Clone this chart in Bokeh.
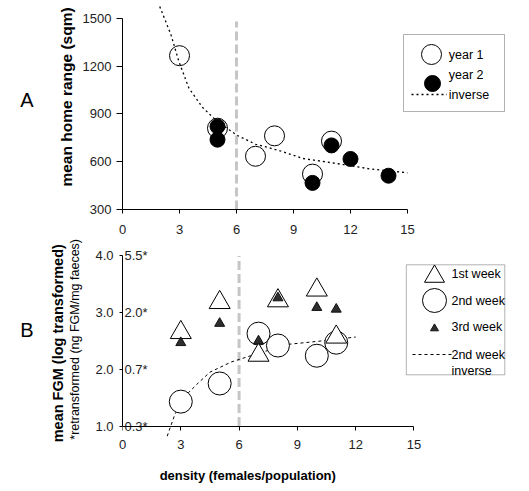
import math
from bokeh.plotting import figure
from bokeh.layouts import column
from bokeh.models import (Range1d, FixedTicker, Legend, LegendItem, Label,
                          BoxAnnotation, LinearAxis)
from bokeh.core.properties import value
from bokeh.embed import file_html
from bokeh.resources import INLINE

FONT = "Liberation Sans"
TICK_COLOR = "#222222"

# ---------------- data: panel A (home range) ----------------
density_year1 = [3, 5, 7, 8, 10, 11]
home_range_year1 = [1265, 810, 634, 762, 522, 729]
density_year2 = [5, 5, 10, 11, 12, 14]
home_range_year2 = [821, 738, 467, 702, 617, 512]
inverse_a_x = [1.96, 2.54, 2.98, 3.5, 4.2, 5.0, 6.05, 7.0, 8.24, 9.5, 11.35, 13.0, 15.0]
inverse_a_y = [1573, 1400, 1224, 1060, 942, 850, 764, 710, 670, 620, 587, 555, 530]

# ---------------- data: panel B (FGM) ----------------
density_weeks = [3, 5, 7, 8, 10, 11]
fgm_week1 = [2.65, 3.18, 2.25, 3.21, 3.40, 2.57]
fgm_week2 = [1.43, 1.75, 2.63, 2.42, 2.24, 2.47]
fgm_week3 = [2.47, 2.81, 2.50, 3.26, 3.09, 3.06]
inverse_b_x = [2.3, 2.7, 3.4, 3.9, 4.5, 5.6, 6.6, 8.5, 10.5, 12.0]
inverse_b_y = [0.82, 1.21, 1.59, 1.76, 1.95, 2.13, 2.24, 2.44, 2.51, 2.57]

# ---------------- ticks ----------------
x_ticks = [0, 3, 6, 9, 12, 15]
a_y_ticks = [300, 600, 900, 1200, 1500]
b_y_ticks = [1.0, 2.0, 3.0, 4.0]
b_y_tick_labels = ["1.0", "2.0", "3.0", "4.0"]
b_retransformed_labels = ["0.3*", "0.7*", "2.0*", "5.5*"]
threshold_density = 6

# ---------------- geometry (canvas pixels) ----------------
W = 529
A_H = 238
B_TOP = A_H
B_H = 491 - A_H
AX_L, AY_T, AY_B = 122, 0, 209
A_XPX = 19.0
A_YPX = 191.3 / 1200.0
BX_L, BY_T, BY_B = 117, B_TOP, 437
B_XPX = 19.67
B_YPX = 56.67
B_Y1PX = 425.5  # pixel row of value 1.0 (where the x axis line sits)


def a_data(px, py):
    return (px - AX_L) / A_XPX, 300 + (AY_B - py) / A_YPX


def b_data(px, py):
    return (px - BX_L) / B_XPX, 1.0 + (B_Y1PX - py) / B_YPX


def style_fig(p):
    p.outline_line_color = None
    p.xgrid.visible = False
    p.ygrid.visible = False
    p.background_fill_color = "white"
    p.border_fill_color = "white"


def style_axis(ax, tick_out, standoff):
    ax.axis_line_color = "black"
    ax.major_tick_line_color = "black"
    ax.major_tick_out = tick_out
    ax.major_tick_in = 0
    ax.minor_tick_line_color = None
    ax.major_label_text_font = FONT
    ax.major_label_text_font_size = "13px"
    ax.major_label_text_color = TICK_COLOR
    ax.major_label_standoff = standoff


def text_axis(p, side, pos, text, size, style, standoff, orientation="horizontal"):
    """An axis without line or ticks whose single tick label carries a title text."""
    ax = LinearAxis(ticker=FixedTicker(ticks=[pos]), major_label_overrides={pos: text},
                    major_label_text_font=FONT, major_label_text_font_size=size,
                    major_label_text_font_style=style, major_label_text_color="black",
                    major_label_orientation=orientation, major_label_standoff=standoff,
                    axis_line_color=None, major_tick_line_color=None,
                    minor_tick_line_color=None, major_tick_out=0, major_tick_in=0,
                    minor_tick_out=0, minor_tick_in=0)
    p.add_layout(ax, side)
    return ax


def legend_glyph(p, renderer, cx, cy, size, frame_l, frame_b, line_x0=None, line_x1=None):
    if line_x0 is None:
        gw = gh = int(round(size / 0.4))
    else:
        gw = int(round(line_x1 - line_x0))
        gh = 16
    left = cx - gw / 2.0
    bottom = cy + gh / 2.0
    leg = Legend(items=[LegendItem(label=" ", renderers=[renderer])],
                 location=(left - frame_l, frame_b - bottom),
                 glyph_width=gw, glyph_height=gh, label_standoff=0,
                 label_height=4, label_width=1,
                 padding=0, margin=0, spacing=0,
                 border_line_color=None, background_fill_alpha=0,
                 label_text_font_size="4px")
    p.add_layout(leg)


def legend_text(p, conv, text, px, py):
    x, y = conv(px, py)
    p.add_layout(Label(x=x, y=y, text=text, text_font=FONT, text_font_size="12.5px",
                       text_align="left", text_baseline="middle", text_color="black"))


# ======================= Panel A =======================
pa = figure(width=W, height=A_H, output_backend="svg", toolbar_location=None,
            x_range=Range1d(0, (W - AX_L) / A_XPX),
            y_range=Range1d(300, 300 + (AY_B - AY_T) / A_YPX),
            min_border_left=AX_L, min_border_right=0,
            min_border_top=AY_T, min_border_bottom=A_H - AY_B)
style_fig(pa)

pa.segment(x0=[threshold_density], y0=[a_y_ticks[0]], x1=[threshold_density], y1=[1480],
           line_color="#c6c6c6", line_width=3, line_dash="9 4")
r_y1 = pa.scatter(density_year1, home_range_year1, size=20, marker="circle",
                  fill_color="white", line_color="black", line_width=1)
r_y2 = pa.scatter(density_year2, home_range_year2, size=15, marker="circle",
                  fill_color="black", line_color="black")
r_inv_a = pa.line(inverse_a_x, inverse_a_y, line_color="black", line_width=1.3,
                  line_dash="2 3")

xa = pa.xaxis[0]
xa.ticker = FixedTicker(ticks=x_ticks)
xa.bounds = (x_ticks[0], x_ticks[-1])
style_axis(xa, 4, 11)
ya = pa.yaxis[0]
ya.ticker = FixedTicker(ticks=a_y_ticks)
ya.bounds = (a_y_ticks[0], a_y_ticks[-1])
style_axis(ya, 6, 5)

text_axis(pa, "left", a_data(0, 110.8)[1], "mean home range (sqm)", "15.5px", "bold", 13,
          orientation=math.pi / 2)
text_axis(pa, "left", a_data(0, 99)[1], "A", "20px", "normal", 13)

# legend A
pa.add_layout(BoxAnnotation(left=a_data(403, 0)[0], right=a_data(504, 0)[0],
                            top=a_data(0, 34)[1], bottom=a_data(0, 111)[1],
                            fill_alpha=0, line_color="black", line_width=1))
legend_glyph(pa, r_y1, 431, 54.3, 20, AX_L, AY_B)
legend_glyph(pa, r_y2, 432, 83.3, 16, AX_L, AY_B)
legend_glyph(pa, r_inv_a, 428.7, 94.3, None, AX_L, AY_B, line_x0=410.7, line_x1=446.7)
legend_text(pa, a_data, "year 1", 448.3, 54.3)
legend_text(pa, a_data, "year 2", 448.3, 74.3)
legend_text(pa, a_data, "inverse", 448.3, 94.3)

# ======================= Panel B =======================
pb = figure(width=W, height=B_H, output_backend="svg", toolbar_location=None,
            x_range=Range1d(0, (W - BX_L) / B_XPX),
            y_range=Range1d(1.0 - (BY_B - B_Y1PX) / B_YPX,
                            1.0 + (B_Y1PX - BY_T) / B_YPX),
            min_border_left=BX_L, min_border_right=0,
            min_border_top=0, min_border_bottom=B_TOP + B_H - BY_B)
style_fig(pb)

pb.segment(x0=[threshold_density], y0=[b_y_ticks[0]], x1=[threshold_density], y1=[b_y_ticks[-1]],
           line_color="#c6c6c6", line_width=3, line_dash="9 4")
r_inv_b = pb.line(inverse_b_x, inverse_b_y, line_color="black", line_width=1,
                  line_dash="3 3")
r_w2 = pb.scatter(density_weeks, fgm_week2, size=23, marker="circle",
                  fill_color="white", line_color="black", line_width=1)
r_w1 = pb.scatter(density_weeks, fgm_week1, size=21, marker="triangle",
                  fill_color="white", line_color="black", line_width=1)
r_w3 = pb.scatter(density_weeks, fgm_week3, size=10, marker="triangle",
                  fill_color="#2e2e2e", line_color="#111111", line_width=1)

pb.text(x=[x_ticks[0]] * len(b_y_ticks), y=b_y_ticks, text=b_retransformed_labels,
        x_offset=2, text_align="left", text_baseline="middle",
        text_font=value(FONT), text_font_size="13px", text_color=TICK_COLOR)

# x axis line + tick marks, pinned at FGM = 1.0 (its own labels are hidden)
xb = pb.xaxis[0]
xb.ticker = FixedTicker(ticks=x_ticks)
xb.bounds = (x_ticks[0], x_ticks[-1])
xb.fixed_location = b_y_ticks[0]
style_axis(xb, 4, 3)
xb.major_label_text_alpha = 0
# tick labels of the x axis, below the frame
xl = LinearAxis(ticker=FixedTicker(ticks=x_ticks), axis_line_color=None,
                major_tick_line_color=None, minor_tick_line_color=None)
style_axis(xl, 0, 2)
xl.axis_line_color = None
xl.major_tick_line_color = None
pb.add_layout(xl, "below")

yb = pb.yaxis[0]
yb.ticker = FixedTicker(ticks=b_y_ticks)
yb.bounds = (b_y_ticks[0], b_y_ticks[-1])
yb.major_label_overrides = {t: s for t, s in zip(b_y_ticks, b_y_tick_labels)}
style_axis(yb, 3, 6)

b_lab_mid = b_data(0, 342)[1]
text_axis(pb, "left", b_lab_mid, "*retransformed (ng FGM/mg faeces)", "12.5px", "normal", 18,
          orientation=math.pi / 2)
text_axis(pb, "left", b_lab_mid, "mean FGM (log transformed)", "14.5px", "bold", 0,
          orientation=math.pi / 2)
text_axis(pb, "left", b_data(0, 329)[1], "B", "20px", "normal", 5)
text_axis(pb, "below", b_data(243.8, 0)[0], "density (females/population)", "13px", "bold", 16)

# legend B
legend_glyph(pb, r_w1, 429.3, 275.5, 20, BX_L, BY_B)
legend_glyph(pb, r_w2, 429.3, 300, 24, BX_L, BY_B)
legend_glyph(pb, r_w3, 428.7, 327.5, 8, BX_L, BY_B)
legend_glyph(pb, r_inv_b, 426.85, 354, None, BX_L, BY_B, line_x0=406.7, line_x1=447)
legend_text(pb, b_data, "1st week", 450, 273)
legend_text(pb, b_data, "2nd week", 450, 300)
legend_text(pb, b_data, "3rd week", 450, 326.5)
legend_text(pb, b_data, "2nd week", 450, 354)
legend_text(pb, b_data, "inverse", 450, 370)
pb.add_layout(BoxAnnotation(left=b_data(404.3, 0)[0], right=b_data(505, 0)[0],
                            top=b_data(0, 374.8)[1], bottom=b_data(0, 382)[1],
                            fill_color="white", fill_alpha=1, line_color=None))
pb.add_layout(BoxAnnotation(left=b_data(404.3, 0)[0], right=b_data(504, 0)[0],
                            top=b_data(0, 264.3)[1], bottom=b_data(0, 374.3)[1],
                            fill_alpha=0, line_color="black", line_width=1))

layout = column(pa, pb, spacing=0)
open("out.html", "w").write(file_html(layout, INLINE))
